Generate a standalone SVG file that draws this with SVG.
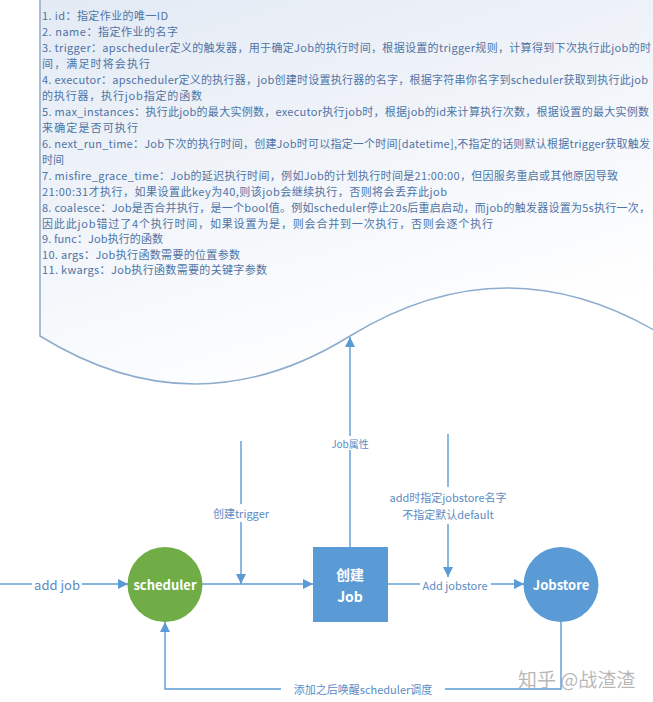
<svg xmlns="http://www.w3.org/2000/svg" width="653" height="702" viewBox="0 0 653 702">
<defs>
<linearGradient id="docfill" x1="0" y1="0" x2="0.5" y2="1">
<stop offset="0" stop-color="#e3eaf4"/>
<stop offset="1" stop-color="#ffffff"/>
</linearGradient>
<marker id="arr" markerUnits="userSpaceOnUse" markerWidth="10" markerHeight="10" viewBox="0 0 10 10" refX="10" refY="5" orient="auto">
<path d="M0,0 L10,5 L0,10 z" fill="#5b9bd5"/>
</marker>
<style>
.doc{fill:url(#docfill);stroke:#8eaccd;stroke-width:1.5}
.t{font-family:"Noto Sans CJK SC","Noto Sans",sans-serif;font-size:11px;fill:#4f74a6}
.c{stroke:#5b9bd5;stroke-width:1.4;fill:none}
.lbl{font-family:"Noto Sans CJK SC","Noto Sans",sans-serif;fill:#5a8cc4;text-anchor:middle;dominant-baseline:central}
.node{font-family:"Noto Sans CJK SC","Noto Sans",sans-serif;font-weight:bold;fill:#ffffff;text-anchor:middle;dominant-baseline:central}
.wm{font-family:"Noto Sans CJK SC","Noto Sans",sans-serif;fill:#a0a0a0;fill-opacity:0.75;dominant-baseline:central}
</style>
</defs>
<rect width="653" height="702" fill="#ffffff"/>
<g id="doc">
<path class="doc" d="M40,-2 L40,336 Q195,432 350,336 Q507,240 664,336 L664,-2 Z"/>
<text class="t" x="42" y="20" textLength="126">1. id：指定作业的唯一ID</text>
<text class="t" x="42" y="36" textLength="136">2. name：指定作业的名字</text>
<text class="t" x="42" y="52" textLength="609">3. trigger：apscheduler定义的触发器，用于确定Job的执行时间，根据设置的trigger规则，计算得到下次执行此job的时</text>
<text class="t" x="42" y="68" textLength="108">间，满足时将会执行</text>
<text class="t" x="42" y="84" textLength="606">4. executor：apscheduler定义的执行器，job创建时设置执行器的名字，根据字符串你名字到scheduler获取到执行此job</text>
<text class="t" x="42" y="100" textLength="160">的执行器，执行job指定的函数</text>
<text class="t" x="42" y="116" textLength="607">5. max_instances：执行此job的最大实例数，executor执行job时，根据job的id来计算执行次数，根据设置的最大实例数</text>
<text class="t" x="42" y="132" textLength="96">来确定是否可执行</text>
<text class="t" x="42" y="148" textLength="608">6. next_run_time：Job下次的执行时间，创建Job时可以指定一个时间[datetime],不指定的话则默认根据trigger获取触发</text>
<text class="t" x="42" y="164">时间</text>
<text class="t" x="42" y="180" textLength="576">7. misfire_grace_time：Job的延迟执行时间，例如Job的计划执行时间是21:00:00，但因服务重启或其他原因导致</text>
<text class="t" x="42" y="196" textLength="405">21:00:31才执行，如果设置此key为40,则该job会继续执行，否则将会丢弃此job</text>
<text class="t" x="42" y="212" textLength="608">8. coalesce：Job是否合并执行，是一个bool值。例如scheduler停止20s后重启启动，而job的触发器设置为5s执行一次，</text>
<text class="t" x="42" y="228" textLength="451">因此此job错过了4个执行时间，如果设置为是，则会合并到一次执行，否则会逐个执行</text>
<text class="t" x="42" y="243" textLength="121">9. func：Job执行的函数</text>
<text class="t" x="42" y="259" textLength="198">10. args：Job执行函数需要的位置参数</text>
<text class="t" x="42" y="274" textLength="225">11. kwargs：Job执行函数需要的关键字参数</text>
</g>
<g id="connectors">
<line class="c" x1="0" y1="584" x2="32" y2="584"/>
<line class="c" x1="82" y1="584" x2="128" y2="584" marker-end="url(#arr)"/>
<line class="c" x1="202" y1="584" x2="313" y2="584" marker-end="url(#arr)"/>
<line class="c" x1="241" y1="441" x2="241" y2="504"/>
<line class="c" x1="241" y1="522" x2="241" y2="584" marker-end="url(#arr)"/>
<line class="c" x1="350" y1="547" x2="350" y2="450"/>
<line class="c" x1="350" y1="436" x2="350" y2="337" marker-end="url(#arr)"/>
<line class="c" x1="448" y1="434" x2="448" y2="487"/>
<line class="c" x1="448" y1="524" x2="448" y2="577" marker-end="url(#arr)"/>
<line class="c" x1="388" y1="584" x2="420" y2="584"/>
<line class="c" x1="491" y1="584" x2="524" y2="584" marker-end="url(#arr)"/>
<polyline class="c" points="561,622 561,689 445,689"/>
<polyline class="c" points="281,689 165,689 165,622" marker-end="url(#arr)"/>
<text class="lbl" x="57" y="584" font-size="13">add job</text>
<text class="lbl" x="241" y="513" font-size="11">创建trigger</text>
<text class="lbl" x="350" y="443" font-size="10">Job属性</text>
<text class="lbl" x="448" y="497" font-size="11">add时指定jobstore名字</text>
<text class="lbl" x="448" y="514" font-size="11">不指定默认default</text>
<text class="lbl" x="455" y="585" font-size="11">Add jobstore</text>
<text class="lbl" x="363" y="689" font-size="11">添加之后唤醒scheduler调度</text>
</g>
<g id="scheduler">
<circle cx="165" cy="584.5" r="37.5" fill="#70ad47"/>
<text class="node" x="165" y="584" font-size="13">scheduler</text>
</g>
<g id="createJob">
<rect x="313" y="547" width="75" height="75" fill="#5b9bd5"/>
<text class="node" x="350" y="574" font-size="14">创建</text>
<text class="node" x="350" y="596" font-size="14">Job</text>
</g>
<g id="jobstore">
<circle cx="561" cy="584.5" r="37.5" fill="#5b9bd5"/>
<text class="node" x="561" y="584" font-size="13">Jobstore</text>
</g>
<g id="watermark">
<text class="wm" x="518" y="678" font-size="19">知乎 @战渣渣</text>
</g>
</svg>
